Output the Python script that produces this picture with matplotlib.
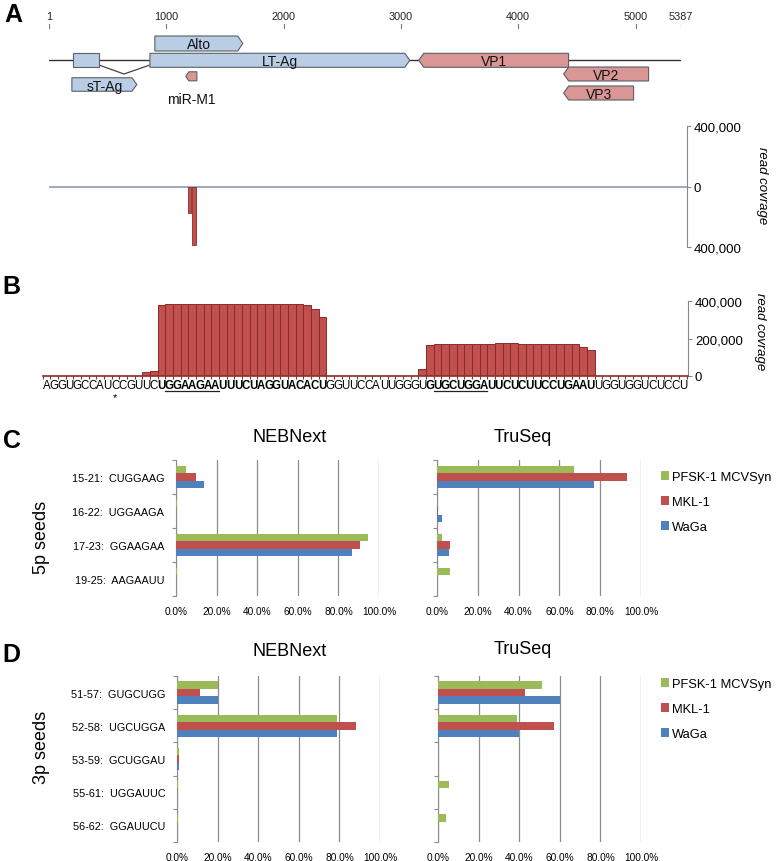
import matplotlib
matplotlib.use("Agg")
import matplotlib.pyplot as plt
import numpy as np
from matplotlib.patches import Polygon, Rectangle, Patch
from matplotlib.ticker import FuncFormatter

plt.rcParams["font.family"] = ["Liberation Sans", "DejaVu Sans"]

W, H = 778, 862

# ---- A: MCPyV genome map + genome-wide small RNA coverage ----
GENOME_LEN = 5387
scale_ticks = [1, 1000, 2000, 3000, 4000, 5000, 5387]
gene_names = ["Alto", "LT-Ag", "sT-Ag", "miR-M1", "VP1", "VP2", "VP3"]
gene_start = [903, 861, 196, 1167, 3152, 4387, 4387]
gene_end = [1652, 3076, 750, 1261, 4429, 5111, 4983]
gene_strand = [1, 1, 1, -1, -1, -1, -1]
early_exon = [204, 426]
intron_x = [426, 640, 861]

a_arm_start = [1186, 1218]
a_arm_end = [1212, 1250]
a_arm_depth = [-175000, -385000]

# ---- B: per-nucleotide coverage over the miR-M1 hairpin ----
b_seq = "AGGUGCCAUCCGUUCUGGAAGAAUUUCUAGGUACACUGGUUCCAUUGGGUGUGCUGGAUUCUCUUCCUGAAUUGGUGGUCUCCU"
b_bold = [(16, 37), (51, 72)]
b_underline = [(17, 23), (52, 58)]
b_star = 10
b_cov = [
    0, 0, 0, 0, 0, 0, 0, 0, 0, 0, 0, 0, 0, 21000, 25000,
    379000, 384000, 384000, 384000, 384000, 384000, 384000, 384000, 384000,
    384000, 384000, 384000, 384000, 384000, 384000, 384000, 384000, 384000,
    383000, 380000, 356000, 316000,
    0, 0, 0, 0, 0, 0, 0, 0, 0, 0, 0, 0, 36000,
    168000, 170000, 170000, 172000, 172000, 170000, 173000, 173000, 173000,
    174000, 174000, 174000, 173000, 173000, 172000, 172000, 172000, 171000,
    171000, 170000, 157000, 139000,
    0, 0, 0, 0, 0, 0, 0, 0, 0, 0, 0, 0,
]

# ---- C / D: seed usage per library prep ----
series_names = ["PFSK-1 MCVSyn", "MKL-1", "WaGa"]
c_labels = ["15-21:  CUGGAAG", "16-22:  UGGAAGA", "17-23:  GGAAGAA", "19-25:  AAGAAUU"]
c_neb_pfsk = [0.05, 0.003, 0.945, 0.003]
c_neb_mkl = [0.098, 0.0, 0.905, 0.0]
c_neb_waga = [0.138, 0.0, 0.865, 0.0]
c_tru_pfsk = [0.67, 0.0, 0.023, 0.062]
c_tru_mkl = [0.93, 0.004, 0.062, 0.0]
c_tru_waga = [0.77, 0.025, 0.058, 0.0]

d_labels = ["51-57:  GUGCUGG", "52-58:  UGCUGGA", "53-59:  GCUGGAU",
            "55-61:  UGGAUUC", "56-62:  GGAUUCU"]
d_neb_pfsk = [0.20, 0.79, 0.012, 0.004, 0.004]
d_neb_mkl = [0.115, 0.88, 0.008, 0.0, 0.0]
d_neb_waga = [0.20, 0.79, 0.010, 0.0, 0.0]
d_tru_pfsk = [0.51, 0.39, 0.0, 0.055, 0.038]
d_tru_mkl = [0.43, 0.57, 0.0, 0.0, 0.0]
d_tru_waga = [0.60, 0.40, 0.0, 0.0, 0.0]

SERIES_COLORS = ["#9bbb59", "#c0504d", "#4f81bd"]
BLUE_FACE, PINK_FACE = "#b9cde5", "#d99694"
GENE_EDGE = "#5b5f66"
COV_RED, COV_EDGE = "#c0504d", "#8a2b28"
GRID = "#8c8c8c"

fig = plt.figure(figsize=(W / 100, H / 100), dpi=100)


def px_axes(x0, y0, x1, y1):
    return fig.add_axes([x0 / W, 1 - y1 / H, (x1 - x0) / W, (y1 - y0) / H])


def fig_text(x, y, s, **kw):
    fig.text(x / W, 1 - y / H, s, **kw)


# panel letters
for letter, (x, y) in zip("ABCD", [(4, 15), (2, 287), (3, 441), (2, 655)]):
    fig_text(x, y, letter, fontsize=18, fontweight="bold", ha="left", va="center")

# ---------------- A: genome map ----------------
amap = px_axes(49, 0, 681, 110)
amap.set_xlim(1, GENOME_LEN)
amap.set_ylim(110, 0)
amap.axis("off")
px_per_nt = (681 - 49) / (GENOME_LEN - 1)

for t in scale_ticks:
    amap.text(t, 17, str(t), ha="center", va="center", fontsize=7.8, color="#222")
    amap.plot([t, t], [25, 29], color="#777", lw=0.8)

amap.plot([1, GENOME_LEN], [61.3, 61.3], color="#333", lw=1.0, zorder=1)
amap.plot(intron_x, [66, 75, 66], color="#444", lw=0.9, zorder=1)
amap.add_patch(Rectangle((early_exon[0], 54.3), early_exon[1] - early_exon[0], 14,
                         facecolor=BLUE_FACE, edgecolor=GENE_EDGE, lw=0.8, zorder=2))

# track layout: (y centre px, height px, tip px, label y px)
track = {
    "Alto": (44.5, 15, 5, 45),
    "LT-Ag": (61.3, 14, 5, 62),
    "sT-Ag": (85.5, 13.5, 5, 86.5),
    "miR-M1": (77.3, 9, 3, 100),
    "VP1": (61.3, 14, 5, 62),
    "VP2": (75, 14, 5, 76),
    "VP3": (94, 14, 5, 95),
}

for name, s, e, strand in zip(gene_names, gene_start, gene_end, gene_strand):
    yc, h, tip_px, ly = track[name]
    tip = tip_px / px_per_nt
    top, bot = yc - h / 2, yc + h / 2
    if strand > 0:
        pts = [(s, top), (e - tip, top), (e, yc), (e - tip, bot), (s, bot)]
    else:
        pts = [(e, top), (s + tip, top), (s, yc), (s + tip, bot), (e, bot)]
    face = BLUE_FACE if name in ("Alto", "LT-Ag", "sT-Ag") else PINK_FACE
    amap.add_patch(Polygon(pts, closed=True, facecolor=face, edgecolor=GENE_EDGE,
                           lw=0.8, zorder=2))
    amap.text((s + e) / 2, ly, name, ha="center", va="center", fontsize=10,
              color="#111", zorder=3)

# ---------------- A: coverage ----------------
acov = px_axes(49, 127, 687, 248)
acov.set_xlim(1, 1 + (687 - 49) / px_per_nt)
acov.set_ylim(-400000, 400000)
acov.axhline(0, color="#8f9ab8", lw=1.2, zorder=1)
acov.bar(a_arm_start, a_arm_depth, width=np.subtract(a_arm_end, a_arm_start),
         align="edge", color=COV_RED, edgecolor=COV_EDGE, lw=0.6, zorder=2)
for side in ("top", "left", "bottom"):
    acov.spines[side].set_visible(False)
acov.spines["right"].set_color("#888")
acov.set_xticks([])
acov.yaxis.tick_right()
acov.set_yticks([400000, 0, -400000])
acov.set_yticklabels(["400,000", "0", "400,000"])
acov.tick_params(axis="y", length=3, color="#888", labelsize=9.5, pad=2)
fig_text(762, 186, "read covrage", rotation=270, style="italic", fontsize=9.5,
         ha="center", va="center")

# ---------------- B ----------------
bax = px_axes(42.5, 302, 688, 377)
n_nt = len(b_seq)
pos = np.arange(1, n_nt + 1)
bax.bar(pos, b_cov, width=1.0, color=COV_RED, edgecolor=COV_EDGE, lw=0.7, zorder=2)
bax.set_xlim(0.5, 0.5 + (688 - 42.5) / 7.67)
bax.set_ylim(0, 400000)
for side in ("top", "left"):
    bax.spines[side].set_visible(False)
bax.spines["right"].set_color("#888")
bax.spines["bottom"].set_color(COV_EDGE)
bax.spines["bottom"].set_linewidth(1.2)
bax.yaxis.tick_right()
bax.set_yticks([0, 200000, 400000])
bax.set_yticklabels(["0", "200,000", "400,000"])
bax.tick_params(axis="y", length=3, color="#888", labelsize=9.5, pad=2)
bax.set_xticks(np.append(pos - 0.5, n_nt + 0.5))
bax.set_xticklabels([])
bax.tick_params(axis="x", length=2.5, color=COV_EDGE, width=0.8)

tr = bax.get_xaxis_transform()
for i, ch in enumerate(b_seq, start=1):
    bold = any(a <= i <= b for a, b in b_bold)
    bax.text(i, -0.12, ch, transform=tr, ha="center", va="center", fontsize=8.3,
             fontweight="bold" if bold else "normal", clip_on=False)
for a, b in b_underline:
    bax.plot([a - 0.5, b + 0.5], [-0.2, -0.2], transform=tr, color="#222", lw=0.9,
             clip_on=False)
bax.text(b_star, -0.28, "*", transform=tr, ha="center", va="center", fontsize=8,
         clip_on=False)
fig_text(760, 332, "read covrage", rotation=270, style="italic", fontsize=9.5,
         ha="center", va="center")


# ---------------- C / D ----------------
def seed_panel(ax, labels, series, bar_h, show_labels):
    n = len(labels)
    idx = np.arange(n)
    for k, vals in enumerate(series):
        ax.barh(idx + (k - 1) * bar_h, vals, height=bar_h, color=SERIES_COLORS[k],
                zorder=3)
    ax.set_ylim(n - 0.5, -0.5)
    ax.set_xlim(0, 1)
    ax.set_xticks([0, 0.2, 0.4, 0.6, 0.8, 1.0])
    ax.xaxis.set_major_formatter(FuncFormatter(lambda v, _: f"{v * 100:.1f}%"))
    ax.grid(axis="x", color=GRID, lw=0.9)
    ax.set_axisbelow(True)
    for side in ("top", "right", "bottom"):
        ax.spines[side].set_visible(False)
    ax.spines["left"].set_color(GRID)
    ax.set_yticks(np.arange(n + 1) - 0.5)
    ax.set_yticklabels([])
    ax.tick_params(axis="y", which="major", length=3, color=GRID)
    ax.set_yticks(idx, minor=True)
    ax.set_yticklabels(labels if show_labels else [], minor=True)
    ax.tick_params(axis="y", which="minor", length=0, pad=8.5, labelsize=7.8)
    ax.tick_params(axis="x", length=0, labelsize=7.3, pad=7)


c_neb = px_axes(176, 461, 379, 597)
seed_panel(c_neb, c_labels, [c_neb_pfsk, c_neb_mkl, c_neb_waga], 0.21, True)
c_tru = px_axes(437, 461, 641, 597)
seed_panel(c_tru, c_labels, [c_tru_pfsk, c_tru_mkl, c_tru_waga], 0.21, False)

d_neb = px_axes(177, 677, 380, 843)
seed_panel(d_neb, d_labels, [d_neb_pfsk, d_neb_mkl, d_neb_waga], 0.225, True)
d_tru = px_axes(438, 677, 641, 843)
seed_panel(d_tru, d_labels, [d_tru_pfsk, d_tru_mkl, d_tru_waga], 0.225, False)

for (x, y, s) in [(290, 438, "NEBNext"), (523, 438, "TruSeq"),
                  (290, 652, "NEBNext"), (523, 650, "TruSeq")]:
    fig_text(x, y, s, fontsize=13, ha="center", va="center")
fig_text(42, 537, "5p seeds", fontsize=13, rotation=90, ha="center", va="center")
fig_text(42, 747, "3p seeds", fontsize=13, rotation=90, ha="center", va="center")

handles = [Patch(facecolor=c) for c in SERIES_COLORS]
for top in (472, 679):
    fig.legend(handles, series_names, loc="upper left",
               bbox_to_anchor=(661 / W, 1 - top / H), frameon=False, fontsize=9.3,
               handlelength=0.65, handleheight=0.65, handletextpad=0.2,
               labelspacing=1.0, borderpad=0, borderaxespad=0)

fig.savefig("out.png", dpi=100)
